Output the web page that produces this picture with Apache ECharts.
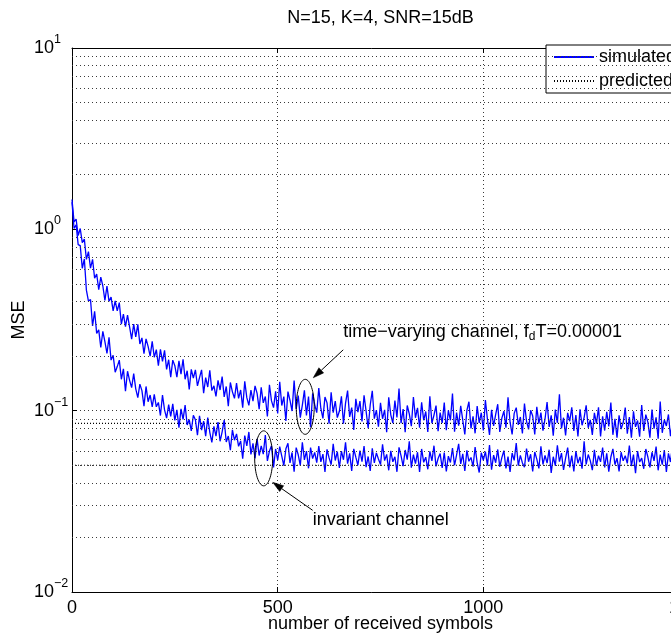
<!DOCTYPE html>
<html>
<head>
<meta charset="utf-8">
<script src="https://cdn.jsdelivr.net/npm/echarts@6/dist/echarts.min.js"></script>
<style>
  html, body { margin: 0; padding: 0; background: #fff; }
  #chart { width: 671px; height: 635px; }
</style>
</head>
<body>
<div id="chart"></div>
<script>
// Learning curve of the adaptive estimator: MSE versus number of received symbols.
const FONT = '"Liberation Sans", Arial, Helvetica, sans-serif';

const TITLE = 'N=15, K=4, SNR=15dB';
const X_NAME = 'number of received symbols';
const Y_NAME = 'MSE';

const X_MIN = 0;
const X_MAX = 1500;
const X_INTERVAL = 500;
const Y_MIN = 0.01;
const Y_MAX = 10;

// Dotted minor grid of the logarithmic MSE axis
const Y_MINOR_GRID = [0.02, 0.03, 0.04, 0.05, 0.06, 0.07, 0.08, 0.09,
                      0.2, 0.3, 0.4, 0.5, 0.6, 0.7, 0.8, 0.9,
                      2, 3, 4, 5, 6, 7, 8, 9];

// Simulated MSE, one stored sample every SYMBOL_STEP received symbols
const SYMBOL_STEP = 5;

const MSE_TIME_VARYING = [
  1.46, 1.10, 1.14, 0.925, 1.01, 0.844, 0.884, 0.683, 0.753, 0.611,
  0.683, 0.537, 0.567, 0.465, 0.545, 0.487, 0.405, 0.486, 0.401, 0.423,
  0.355, 0.403, 0.355, 0.394, 0.30, 0.341, 0.291, 0.336, 0.29, 0.248,
  0.30, 0.255, 0.299, 0.233, 0.252, 0.206, 0.249, 0.226, 0.20, 0.241,
  0.197, 0.217, 0.177, 0.218, 0.187, 0.215, 0.169, 0.191, 0.153, 0.19,
  0.177, 0.153, 0.188, 0.159, 0.192, 0.149, 0.166, 0.131, 0.169, 0.151,
  0.168, 0.137, 0.152, 0.168, 0.125, 0.152, 0.135, 0.167, 0.129, 0.137,
  0.12, 0.147, 0.13, 0.154, 0.119, 0.136, 0.106, 0.143, 0.127, 0.117,
  0.142, 0.117, 0.13, 0.104, 0.145, 0.118, 0.107, 0.13, 0.113, 0.137,
  0.1245, 0.102, 0.1346, 0.1104, 0.1197, 0.0929, 0.1389, 0.1132, 0.104, 0.1279,
  0.0966, 0.1444, 0.1067, 0.1195, 0.0877, 0.1275, 0.1138, 0.0995, 0.1465, 0.1021,
  0.121, 0.0915, 0.1074, 0.1294, 0.0942, 0.1195, 0.0811, 0.1247, 0.108, 0.0976,
  0.1334, 0.1028, 0.0907, 0.119, 0.1104, 0.0847, 0.1264, 0.0975, 0.1128, 0.0916,
  0.0992, 0.1201, 0.0848, 0.11, 0.129, 0.0924, 0.104, 0.0783, 0.1162, 0.0981,
  0.1129, 0.0873, 0.1216, 0.0994, 0.08, 0.1075, 0.1288, 0.0904, 0.1006, 0.0816,
  0.1105, 0.0902, 0.1011, 0.076, 0.1184, 0.0949, 0.0855, 0.1137, 0.0917, 0.1325,
  0.0852, 0.1021, 0.076, 0.1068, 0.096, 0.0822, 0.119, 0.0914, 0.1037, 0.0806,
  0.1111, 0.0885, 0.099, 0.0764, 0.1202, 0.0854, 0.0945, 0.1066, 0.077, 0.0975,
  0.0856, 0.1109, 0.0781, 0.1004, 0.0885, 0.1242, 0.0766, 0.0975, 0.0826, 0.1064,
  0.0886, 0.074, 0.1003, 0.112, 0.0798, 0.093, 0.075, 0.1061, 0.0856, 0.0974,
  0.0779, 0.1143, 0.0895, 0.0735, 0.1012, 0.0823, 0.0954, 0.1085, 0.0764, 0.091,
  0.0995, 0.0806, 0.1184, 0.0864, 0.074, 0.0966, 0.1039, 0.0835, 0.0923, 0.0748,
  0.1093, 0.0876, 0.0789, 0.1006, 0.0934, 0.074, 0.105, 0.0847, 0.0977, 0.0775,
  0.09, 0.1116, 0.0814, 0.0943, 0.0727, 0.1015, 0.0857, 0.1231, 0.0799, 0.0914,
  0.073, 0.0973, 0.0874, 0.1044, 0.0774, 0.0945, 0.072, 0.1016, 0.0831, 0.0916,
  0.1071, 0.0805, 0.0889, 0.0735, 0.0973, 0.0847, 0.1043, 0.072, 0.0931, 0.0777,
  0.0984, 0.0819, 0.1108, 0.0736, 0.0901, 0.071, 0.0943, 0.0791, 0.086, 0.1039,
  0.0746, 0.0923, 0.071, 0.0992, 0.0814, 0.0882, 0.0718, 0.1074, 0.0773, 0.0951,
  0.0864, 0.071, 0.1013, 0.0796, 0.0918, 0.07, 0.1122, 0.0755, 0.0891, 0.0823,
  0.0953, 0.0723, 0.0872, 0.0777, 0.1034, 0.07, 0.0899, 0.0804, 0.098, 0.0737
];

const MSE_INVARIANT = [
  1.41, 1.01, 1.06, 0.823, 0.813, 0.61, 0.686, 0.462, 0.402, 0.41,
  0.293, 0.353, 0.267, 0.279, 0.223, 0.274, 0.24, 0.207, 0.254, 0.19,
  0.202, 0.163, 0.175, 0.19, 0.149, 0.17, 0.128, 0.165, 0.147, 0.134,
  0.16, 0.132, 0.118, 0.14, 0.129, 0.106, 0.136, 0.112, 0.122, 0.105,
  0.123, 0.105, 0.111, 0.094, 0.122, 0.101, 0.091, 0.108, 0.093, 0.109,
  0.0883, 0.1011, 0.0805, 0.1023, 0.0895, 0.1073, 0.0833, 0.0894, 0.0773, 0.0943,
  0.0891, 0.0732, 0.0936, 0.0781, 0.0875, 0.0723, 0.0916, 0.076, 0.0668, 0.0819,
  0.0724, 0.0864, 0.0678, 0.0764, 0.0888, 0.0672, 0.0725, 0.0605, 0.0784, 0.0687,
  0.0745, 0.0636, 0.0681, 0.0544, 0.0728, 0.064, 0.0763, 0.0574, 0.066, 0.0545,
  0.0699, 0.0566, 0.0639, 0.0576, 0.0734, 0.0528, 0.0599, 0.0641, 0.0487, 0.0615,
  0.0534, 0.0634, 0.0561, 0.0497, 0.0616, 0.0661, 0.0515, 0.0588, 0.0461, 0.0625,
  0.0571, 0.0499, 0.067, 0.0535, 0.0598, 0.0481, 0.0625, 0.0544, 0.0589, 0.0517,
  0.0638, 0.0522, 0.0576, 0.046, 0.0612, 0.0549, 0.0504, 0.0656, 0.0531, 0.0594,
  0.0483, 0.0598, 0.0536, 0.0669, 0.051, 0.0581, 0.0465, 0.0616, 0.0554, 0.0501,
  0.0603, 0.0524, 0.0638, 0.0488, 0.0559, 0.0465, 0.062, 0.0515, 0.0585, 0.0541,
  0.0504, 0.0653, 0.053, 0.0574, 0.0469, 0.0601, 0.0522, 0.0557, 0.046, 0.0627,
  0.0563, 0.0494, 0.0607, 0.0537, 0.0677, 0.0485, 0.0572, 0.0511, 0.059, 0.0459,
  0.0615, 0.0519, 0.0554, 0.0475, 0.0597, 0.0528, 0.0641, 0.0493, 0.0545, 0.058,
  0.0483, 0.0588, 0.0462, 0.0561, 0.0518, 0.0622, 0.05, 0.057, 0.0657, 0.0509,
  0.0578, 0.0465, 0.0604, 0.0526, 0.0552, 0.0491, 0.063, 0.0517, 0.0456, 0.0586,
  0.0533, 0.0594, 0.0499, 0.0646, 0.0473, 0.0568, 0.0516, 0.0611, 0.049, 0.0551,
  0.0602, 0.048, 0.0558, 0.046, 0.0584, 0.0532, 0.0662, 0.0498, 0.0567, 0.0515,
  0.0488, 0.0618, 0.0523, 0.0575, 0.0462, 0.0592, 0.054, 0.048, 0.0635, 0.0505,
  0.0566, 0.0514, 0.0609, 0.0454, 0.0557, 0.0497, 0.0644, 0.0523, 0.0583, 0.0471,
  0.0548, 0.0625, 0.0487, 0.0565, 0.0462, 0.0599, 0.0513, 0.0556, 0.0479, 0.0677,
  0.0505, 0.0573, 0.053, 0.047, 0.0608, 0.0496, 0.0565, 0.0522, 0.0625, 0.0487,
  0.0581, 0.0461, 0.0555, 0.0615, 0.0504, 0.0547, 0.0462, 0.059, 0.0529, 0.0564,
  0.0512, 0.0641, 0.0495, 0.0572, 0.0452, 0.0598, 0.0521, 0.0547, 0.0478, 0.0615,
  0.0555, 0.0486, 0.059, 0.0529, 0.0633, 0.0469, 0.0572, 0.0504, 0.0607, 0.046,
  0.0581, 0.0521, 0.065, 0.0478, 0.0547, 0.0504, 0.0598, 0.0461, 0.0564, 0.0512
];

// Analytical steady-state MSE
const PREDICTED_TIME_VARYING = 0.085;
const PREDICTED_INVARIANT = 0.050;

// Callouts: circled point on each curve (data coords) and where its label sits
const CALLOUTS = [
  { at: [567, 0.105], text: 'time\u2212varying channel, f{sub|d}T=0.00001',
    head: [8, -29], tail: [38, -57], label: [38, -75] },
  { at: [466, 0.0546], text: 'invariant channel',
    head: [9, 24], tail: [49, 52], label: [49, 62] }
];

const BLUE = '#0000ff';

function toPairs(values) {
  return values.map((v, i) => [i * SYMBOL_STEP, v]);
}

function powerLabel(value) {
  const e = Math.round(Math.log10(value));
  const exp = e < 0 ? '\u2212' + (-e) : String(e);
  return '{b|10}{e|' + exp + '}';
}

const chart = echarts.init(document.getElementById('chart'), null, { renderer: 'canvas' });

const gridDots = { color: '#3a3a3a', width: 1, type: [1, 3] };

chart.setOption({
  animation: false,
  backgroundColor: '#fff',
  textStyle: { fontFamily: FONT },
  grid: { left: 72, top: 48, width: 617, height: 544, outerBoundsMode: 'none', containLabel: false },
  legend: {
    data: ['simulated', 'predicted'],
    orient: 'vertical',
    left: 546, top: 45,
    padding: [3, 8, 3, 7],
    itemWidth: 40, itemHeight: 14, itemGap: 6,
    backgroundColor: '#fff',
    borderColor: '#000', borderWidth: 1, borderRadius: 0,
    itemStyle: { opacity: 0, borderWidth: 0 },
    textStyle: { fontSize: 18, color: '#000', fontFamily: FONT },
    selectedMode: false
  },
  xAxis: [{
    type: 'value', min: X_MIN, max: X_MAX, interval: X_INTERVAL,
    name: X_NAME, nameLocation: 'middle', nameGap: 23, nameMoveOverlap: false,
    nameTextStyle: { fontSize: 18, color: '#000', fontFamily: FONT },
    axisLine: { show: true, onZero: false, lineStyle: { color: '#000', width: 1 } },
    axisTick: { show: true, inside: true, length: 5, lineStyle: { color: '#000' } },
    axisLabel: { fontSize: 18, color: '#000', margin: 7, fontFamily: FONT, formatter: v => String(v) },
    splitLine: { show: true, lineStyle: gridDots }
  }, {
    type: 'value', position: 'top', min: X_MIN, max: X_MAX, interval: X_INTERVAL,
    axisLine: { show: true, onZero: false, lineStyle: { color: '#000', width: 1 } },
    axisTick: { show: true, inside: true, length: 5, lineStyle: { color: '#000' } },
    axisLabel: { show: false },
    splitLine: { show: false }
  }],
  yAxis: {
    type: 'log', logBase: 10, min: Y_MIN, max: Y_MAX, interval: 1,
    name: Y_NAME, nameLocation: 'middle', nameGap: 44, nameMoveOverlap: false,
    nameTextStyle: { fontSize: 18, color: '#000', fontFamily: FONT },
    axisLine: { show: true, onZero: false, lineStyle: { color: '#000', width: 1 } },
    axisTick: { show: true, inside: true, length: 5, lineStyle: { color: '#000' } },
    axisLabel: {
      align: 'left', margin: 38, color: '#000',
      formatter: powerLabel,
      rich: {
        b: { fontSize: 18, lineHeight: 30, fontFamily: FONT, color: '#000', verticalAlign: 'middle' },
        e: { fontSize: 12.5, lineHeight: 13, fontFamily: FONT, color: '#000', verticalAlign: 'top' }
      }
    },
    splitLine: { show: true, lineStyle: gridDots }
  },
  series: [
    {
      name: 'predicted', type: 'line', symbol: 'none', silent: true, z: 2,
      lineStyle: { color: '#000', width: 1.2, type: [1, 2] },
      itemStyle: { color: '#000' },
      data: [[X_MIN, PREDICTED_TIME_VARYING], [X_MAX, PREDICTED_TIME_VARYING]],
      markLine: {
        silent: true, symbol: 'none', label: { show: false }, animation: false,
        lineStyle: gridDots, emphasis: { disabled: true },
        data: Y_MINOR_GRID.map(v => ({ yAxis: v }))
      }
    },
    {
      name: 'predicted', type: 'line', symbol: 'none', silent: true, z: 2,
      lineStyle: { color: '#000', width: 1.2, type: [1, 2] },
      itemStyle: { color: '#000' },
      data: [[X_MIN, PREDICTED_INVARIANT], [X_MAX, PREDICTED_INVARIANT]]
    },
    {
      name: 'simulated', type: 'line', symbol: 'none', silent: true, z: 3,
      lineStyle: { color: BLUE, width: 1.3 }, itemStyle: { color: BLUE },
      data: toPairs(MSE_TIME_VARYING)
    },
    {
      name: 'simulated', type: 'line', symbol: 'none', silent: true, z: 3,
      lineStyle: { color: BLUE, width: 1.3 }, itemStyle: { color: BLUE },
      data: toPairs(MSE_INVARIANT)
    }
  ]
});

// Title, ellipses, arrows and callout labels placed from the axes' own scales
function ellipsePoints(cx, cy, rx, ry) {
  const pts = [];
  for (let k = 0; k < 64; k++) {
    const a = (k / 64) * Math.PI * 2;
    pts.push([cx + rx * Math.cos(a), cy + ry * Math.sin(a)]);
  }
  return pts;
}

function arrow(from, to) {
  const dx = to[0] - from[0], dy = to[1] - from[1];
  const len = Math.hypot(dx, dy);
  const ux = dx / len, uy = dy / len;
  const hl = 11, hw = 3.5;
  const bx = to[0] - ux * hl, by = to[1] - uy * hl;
  return [
    { type: 'line', silent: true, z: 10,
      shape: { x1: from[0], y1: from[1], x2: bx, y2: by },
      style: { stroke: '#000', lineWidth: 1 } },
    { type: 'polygon', silent: true, z: 10,
      shape: { points: [to, [bx - uy * hw, by + ux * hw], [bx + uy * hw, by - ux * hw]] },
      style: { fill: '#000', stroke: '#000', lineWidth: 0.5 } }
  ];
}

const left = chart.convertToPixel({ xAxisIndex: 0 }, X_MIN);
const right = chart.convertToPixel({ xAxisIndex: 0 }, X_MAX);
const graphics = [{
  type: 'text', silent: true, z: 10,
  x: (left + right) / 2, y: 18,
  style: { text: TITLE, font: '18px ' + FONT, fill: '#000', textAlign: 'center', textVerticalAlign: 'middle' }
}];

CALLOUTS.forEach(c => {
  const p = chart.convertToPixel({ xAxisIndex: 0, yAxisIndex: 0 }, c.at);
  graphics.push({
    type: 'polygon', silent: true, z: 10,
    shape: { points: ellipsePoints(p[0], p[1], 9, 27.5) },
    style: { fill: 'none', stroke: '#000', lineWidth: 1 }
  });
  arrow([p[0] + c.tail[0], p[1] + c.tail[1]], [p[0] + c.head[0], p[1] + c.head[1]])
    .forEach(g => graphics.push(g));
  graphics.push({
    type: 'text', silent: true, z: 10,
    x: p[0] + c.label[0], y: p[1] + c.label[1],
    style: {
      text: c.text, font: '18px ' + FONT, fill: '#000',
      textAlign: 'left', textVerticalAlign: 'middle', lineHeight: 22,
      rich: { sub: { fontSize: 12, fontFamily: FONT, lineHeight: 12, verticalAlign: 'bottom', fill: '#000' } }
    }
  });
});

chart.setOption({ graphic: graphics });
</script>
</body>
</html>
